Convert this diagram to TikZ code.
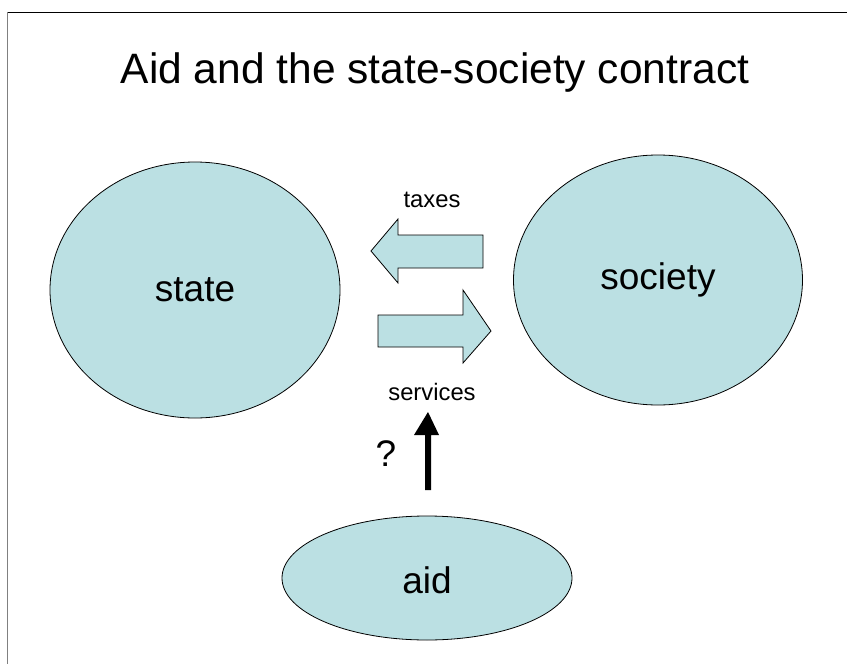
\documentclass[tikz,border=0pt]{standalone}
\usepackage{fontspec}
\setmainfont{Liberation Sans}
\usetikzlibrary{shapes.geometric}
\definecolor{ellfill}{HTML}{BBE0E3}
\begin{document}
\begin{tikzpicture}[x=1pt,y=-1pt,
  blob/.style={ellipse,draw=black,line width=0.8pt,fill=ellfill,inner sep=0pt},
  fatarrow/.style={draw=black,line width=0.8pt,fill=ellfill,line join=miter},
  big/.style={font=\fontsize{37}{40}\selectfont},
  small/.style={font=\fontsize{23.8}{26}\selectfont}]
\useasboundingbox (0,0) rectangle (847,664);
\draw[line width=1pt] (7,12) -- (847,12);
\draw[gray,line width=1pt] (7,12) -- (7,664);
\node[font=\fontsize{42.5}{46}\selectfont] (title) at (435,73) {Aid and the state-society contract};
\node[blob,minimum width=290pt,minimum height=256pt] (state) at (195,290) {};
\node[big] at (195,290) {state};
\node[blob,minimum width=289pt,minimum height=250pt] (society) at (658,280) {};
\node[big] at (658,280) {society};
\node[blob,minimum width=290pt,minimum height=124pt] (aid) at (427,578) {};
\node[big] at (427,580) {aid};
% taxes arrow (pointing left)
\draw[fatarrow] (483,235) -- (398,235) -- (398,219) -- (371,251) -- (398,283) -- (398,268) -- (483,268) -- cycle;
\node[small] (taxes) at (432,200) {taxes};
% services arrow (pointing right)
\draw[fatarrow] (378,315) -- (463,315) -- (463,290) -- (491,331) -- (463,363) -- (463,347) -- (378,347) -- cycle;
\node[small] (services) at (432,392) {services};
% aid arrow
\coordinate (aidtop) at (428,490);
\coordinate (arrtip) at (428,412);
\fill[black] (425,490) -- (425,435) -- (414,435) -- (428,412) -- (439,435) -- (431,435) -- (431,490) -- cycle;
\node[font=\fontsize{37}{40}\selectfont] (q) at (386,454) {?};
\end{tikzpicture}
\end{document}
